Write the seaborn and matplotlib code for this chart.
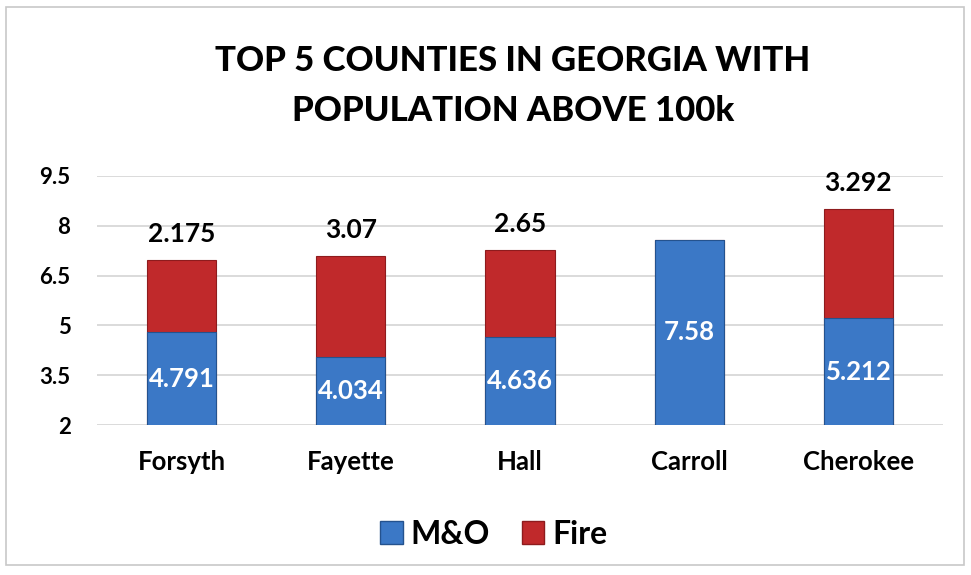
import matplotlib
matplotlib.use("Agg")
import matplotlib.pyplot as plt
from matplotlib.patches import Rectangle, Patch
import seaborn as sns
import pandas as pd

counties = ["Forsyth", "Fayette", "Hall", "Carroll", "Cherokee"]
mo_values = [4.791, 4.034, 4.636, 7.58, 5.212]
fire_values = [2.175, 3.07, 2.65, 0.0, 3.292]
y_ticks = [2, 3.5, 5, 6.5, 8, 9.5]

blue = "#3b78c6"
red = "#c0292b"

sns.set_theme(style="white")
plt.rcParams["font.family"] = ["Lato", "DejaVu Sans"]
plt.rcParams["text.color"] = "black"
plt.rcParams["xtick.color"] = "black"
plt.rcParams["ytick.color"] = "black"

df = pd.DataFrame({"county": counties, "M&O": mo_values, "Fire": fire_values})
df["total"] = df["M&O"] + df["Fire"]

fig = plt.figure(figsize=(9.71, 5.75), dpi=100)
fig.patch.set_facecolor("white")
fig.patches.append(Rectangle((6 / 971, 10 / 575), 958 / 971, 558 / 575,
                             transform=fig.transFigure, facecolor="white",
                             edgecolor="#c8c8c8", linewidth=1.2, zorder=-5))

ax = fig.add_axes([97 / 971, 1 - 425 / 575, 846 / 971, 249 / 575])
ax.set_facecolor("none")
ax.set_zorder(2)

# stacked bars: total (fire on top) first, then the M&O base over it
sns.barplot(data=df, x="county", y="total", color=red, width=0.41,
            saturation=1, edgecolor="#8e1b1d", linewidth=0.8, ax=ax, zorder=3)
sns.barplot(data=df, x="county", y="M&O", color=blue, width=0.41,
            saturation=1, edgecolor="#24528e", linewidth=0.8, ax=ax, zorder=4)

ax.set_ylim(2, 9.5)
ax.set_xlim(-0.5, 4.5)
ax.set_yticks(y_ticks)
ax.set_yticklabels([f"{t:g}" for t in y_ticks], fontsize=16, fontweight="bold")
ax.tick_params(axis="y", length=0, pad=19)
ax.tick_params(axis="x", length=0, pad=18)
for lbl in ax.get_xticklabels():
    lbl.set_fontsize(18.5)
    lbl.set_fontweight("bold")
ax.set_xlabel("")
ax.set_ylabel("")
ax.yaxis.grid(True, color="#d4d4d4", linewidth=1.2)
ax.set_axisbelow(True)
for s in ax.spines.values():
    s.set_visible(False)

# value labels
for i, (mo, fire) in enumerate(zip(mo_values, fire_values)):
    ax.text(i, (2 + mo) / 2, f"{mo:g}", ha="center", va="center",
            color="white", fontsize=18.5, fontweight="bold", zorder=6)
    if fire > 0:
        ax.annotate(f"{fire:g}", (i, mo + fire), xytext=(0, 10),
                    textcoords="offset points", ha="center", va="bottom",
                    fontsize=19, fontweight="bold", color="black", zorder=6)

fig.text(513 / 971, 1 - 86 / 575, "TOP 5 COUNTIES IN GEORGIA WITH\nPOPULATION ABOVE 100k",
         ha="center", va="center", fontsize=25, fontweight="black",
         linespacing=1.7, color="black")

handles = [Patch(facecolor=blue, edgecolor="#24528e"),
           Patch(facecolor=red, edgecolor="#8e1b1d")]
fig.legend(handles, ["M&O", "Fire"], loc="center", bbox_to_anchor=(494 / 971, 1 - 534 / 575),
           ncol=2, frameon=False, prop={"size": 23, "weight": "bold"},
           handlelength=0.7, handleheight=0.7, handletextpad=0.25, columnspacing=1.0)

fig.savefig("out.png", dpi=100)
